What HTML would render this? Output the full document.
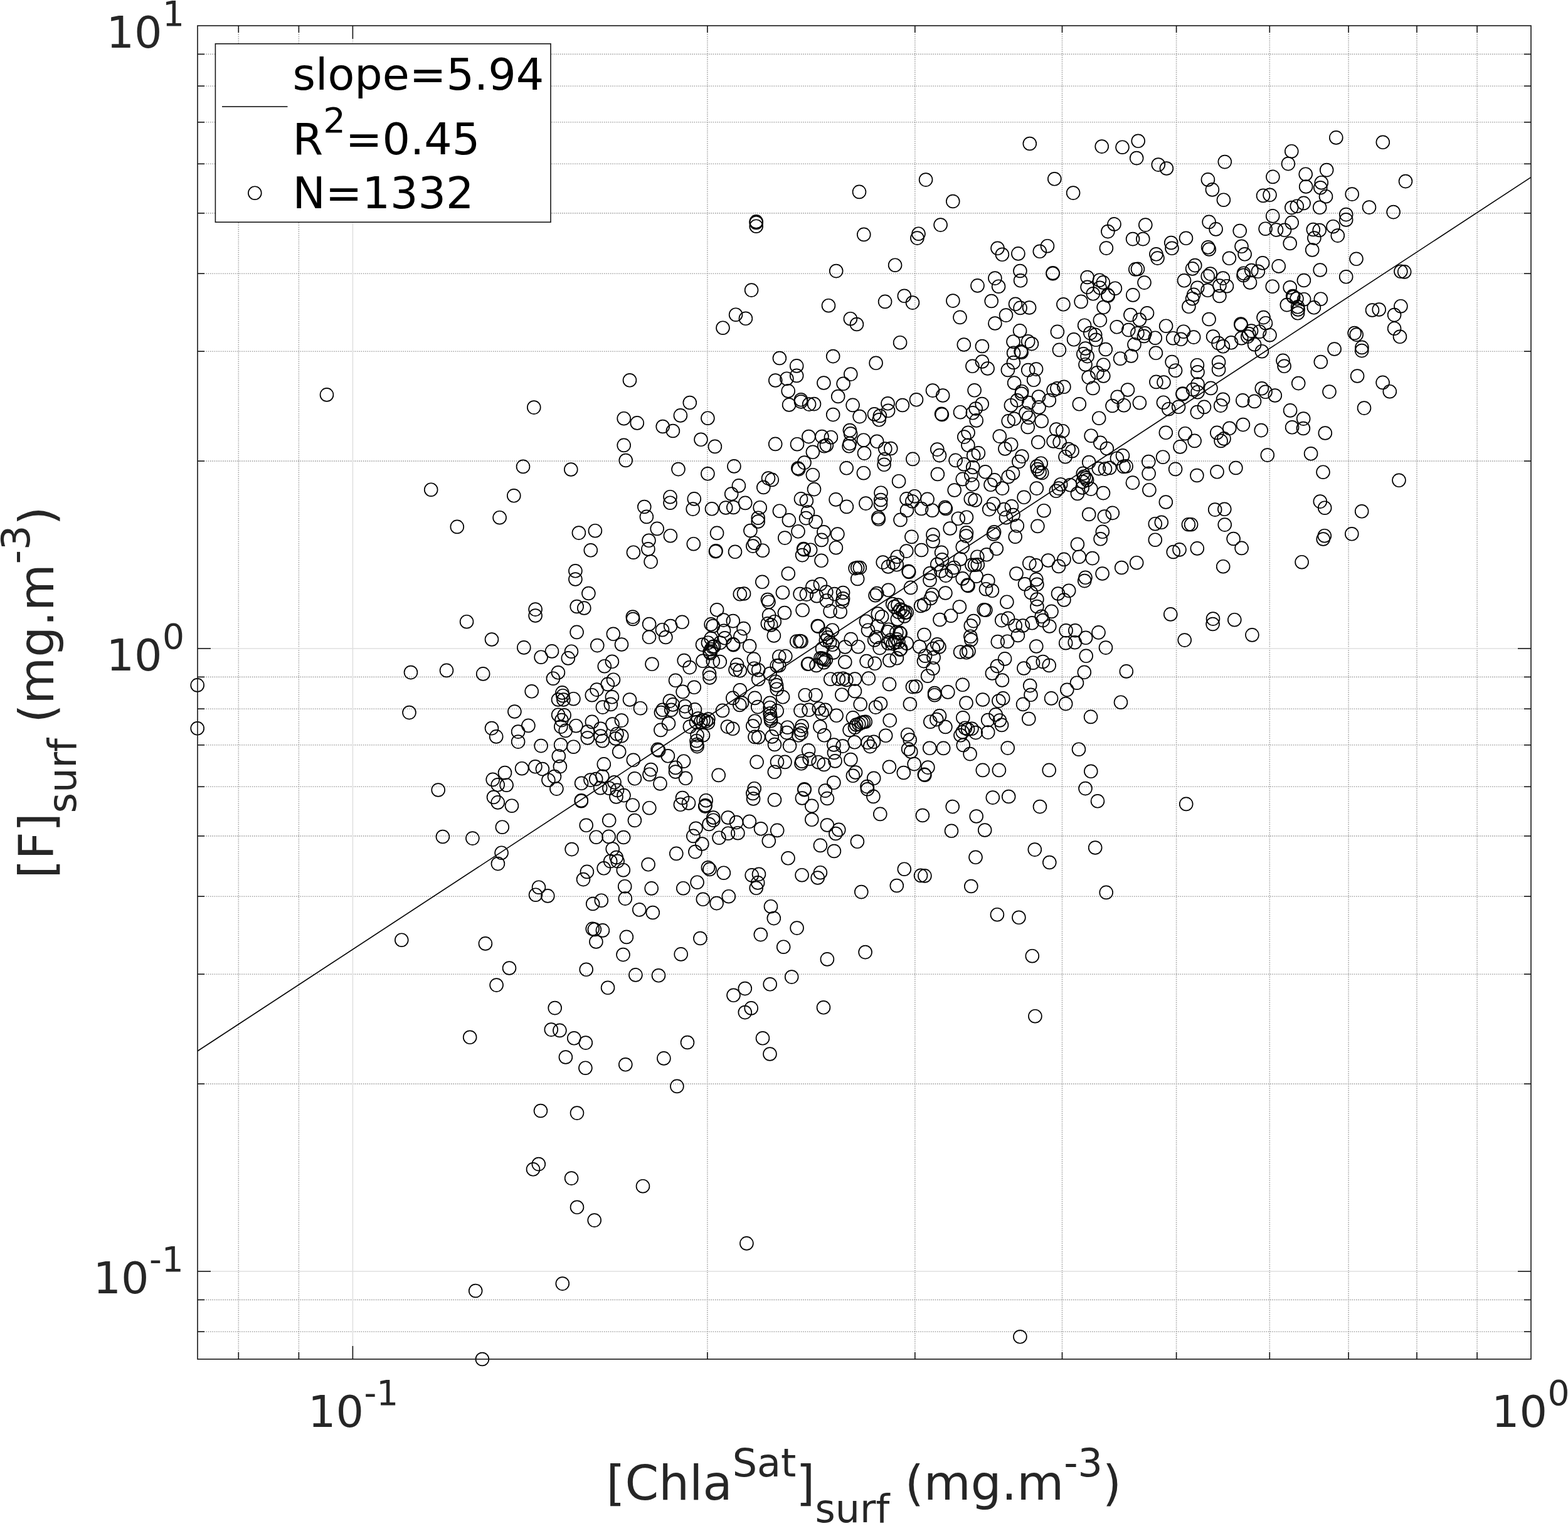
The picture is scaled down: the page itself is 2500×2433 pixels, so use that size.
<!DOCTYPE html>
<html lang="en"><head><meta charset="utf-8"><title>Scatter plot</title>
<style>
html,body{margin:0;padding:0;background:#fff}
body{width:2500px;height:2433px;overflow:hidden}
text{font-family:"DejaVu Sans","Liberation Sans",sans-serif}
.mg{stroke:#a2a2a2;stroke-width:1.6;stroke-dasharray:1.5 1.84}
.Mg{stroke:#dfdfdf;stroke-width:1.5}
.tk{stroke:#161616;stroke-width:1.6}
.tl{font-size:70px;fill:#262626}
.al{font-size:77px;fill:#262626}
.lg{font-size:70px;fill:#000}
</style></head>
<body>
<svg width="2500" height="2433" viewBox="0 0 2500 2433" style="display:block">
<rect x="0" y="0" width="2500" height="2433" fill="#fff"/>
<g><line x1="380.3" y1="41.0" x2="380.3" y2="2167.0" class="mg"/><line x1="476.4" y1="41.0" x2="476.4" y2="2167.0" class="mg"/><line x1="1127.9" y1="41.0" x2="1127.9" y2="2167.0" class="mg"/><line x1="1458.8" y1="41.0" x2="1458.8" y2="2167.0" class="mg"/><line x1="1693.5" y1="41.0" x2="1693.5" y2="2167.0" class="mg"/><line x1="1875.6" y1="41.0" x2="1875.6" y2="2167.0" class="mg"/><line x1="2024.3" y1="41.0" x2="2024.3" y2="2167.0" class="mg"/><line x1="2150.1" y1="41.0" x2="2150.1" y2="2167.0" class="mg"/><line x1="2259.0" y1="41.0" x2="2259.0" y2="2167.0" class="mg"/><line x1="2355.1" y1="41.0" x2="2355.1" y2="2167.0" class="mg"/><line x1="315.0" y1="2123.2" x2="2441.0" y2="2123.2" class="mg"/><line x1="315.0" y1="2072.4" x2="2441.0" y2="2072.4" class="mg"/><line x1="315.0" y1="1728.1" x2="2441.0" y2="1728.1" class="mg"/><line x1="315.0" y1="1553.2" x2="2441.0" y2="1553.2" class="mg"/><line x1="315.0" y1="1429.2" x2="2441.0" y2="1429.2" class="mg"/><line x1="315.0" y1="1332.9" x2="2441.0" y2="1332.9" class="mg"/><line x1="315.0" y1="1254.3" x2="2441.0" y2="1254.3" class="mg"/><line x1="315.0" y1="1187.8" x2="2441.0" y2="1187.8" class="mg"/><line x1="315.0" y1="1130.2" x2="2441.0" y2="1130.2" class="mg"/><line x1="315.0" y1="1079.4" x2="2441.0" y2="1079.4" class="mg"/><line x1="315.0" y1="735.1" x2="2441.0" y2="735.1" class="mg"/><line x1="315.0" y1="560.2" x2="2441.0" y2="560.2" class="mg"/><line x1="315.0" y1="436.2" x2="2441.0" y2="436.2" class="mg"/><line x1="315.0" y1="339.9" x2="2441.0" y2="339.9" class="mg"/><line x1="315.0" y1="261.3" x2="2441.0" y2="261.3" class="mg"/><line x1="315.0" y1="194.8" x2="2441.0" y2="194.8" class="mg"/><line x1="315.0" y1="137.2" x2="2441.0" y2="137.2" class="mg"/><line x1="315.0" y1="86.4" x2="2441.0" y2="86.4" class="mg"/><line x1="562.4" y1="41.0" x2="562.4" y2="2167.0" class="Mg"/><line x1="315.0" y1="2027.0" x2="2441.0" y2="2027.0" class="Mg"/><line x1="315.0" y1="1034.0" x2="2441.0" y2="1034.0" class="Mg"/></g>
<g><line x1="380.3" y1="2167.0" x2="380.3" y2="2156.0" class="tk"/><line x1="380.3" y1="41.0" x2="380.3" y2="52.0" class="tk"/><line x1="476.4" y1="2167.0" x2="476.4" y2="2156.0" class="tk"/><line x1="476.4" y1="41.0" x2="476.4" y2="52.0" class="tk"/><line x1="1127.9" y1="2167.0" x2="1127.9" y2="2156.0" class="tk"/><line x1="1127.9" y1="41.0" x2="1127.9" y2="52.0" class="tk"/><line x1="1458.8" y1="2167.0" x2="1458.8" y2="2156.0" class="tk"/><line x1="1458.8" y1="41.0" x2="1458.8" y2="52.0" class="tk"/><line x1="1693.5" y1="2167.0" x2="1693.5" y2="2156.0" class="tk"/><line x1="1693.5" y1="41.0" x2="1693.5" y2="52.0" class="tk"/><line x1="1875.6" y1="2167.0" x2="1875.6" y2="2156.0" class="tk"/><line x1="1875.6" y1="41.0" x2="1875.6" y2="52.0" class="tk"/><line x1="2024.3" y1="2167.0" x2="2024.3" y2="2156.0" class="tk"/><line x1="2024.3" y1="41.0" x2="2024.3" y2="52.0" class="tk"/><line x1="2150.1" y1="2167.0" x2="2150.1" y2="2156.0" class="tk"/><line x1="2150.1" y1="41.0" x2="2150.1" y2="52.0" class="tk"/><line x1="2259.0" y1="2167.0" x2="2259.0" y2="2156.0" class="tk"/><line x1="2259.0" y1="41.0" x2="2259.0" y2="52.0" class="tk"/><line x1="2355.1" y1="2167.0" x2="2355.1" y2="2156.0" class="tk"/><line x1="2355.1" y1="41.0" x2="2355.1" y2="52.0" class="tk"/><line x1="562.4" y1="2167.0" x2="562.4" y2="2146.0" class="tk"/><line x1="562.4" y1="41.0" x2="562.4" y2="62.0" class="tk"/><line x1="315.0" y1="2123.2" x2="326.0" y2="2123.2" class="tk"/><line x1="2441.0" y1="2123.2" x2="2430.0" y2="2123.2" class="tk"/><line x1="315.0" y1="2072.4" x2="326.0" y2="2072.4" class="tk"/><line x1="2441.0" y1="2072.4" x2="2430.0" y2="2072.4" class="tk"/><line x1="315.0" y1="1728.1" x2="326.0" y2="1728.1" class="tk"/><line x1="2441.0" y1="1728.1" x2="2430.0" y2="1728.1" class="tk"/><line x1="315.0" y1="1553.2" x2="326.0" y2="1553.2" class="tk"/><line x1="2441.0" y1="1553.2" x2="2430.0" y2="1553.2" class="tk"/><line x1="315.0" y1="1429.2" x2="326.0" y2="1429.2" class="tk"/><line x1="2441.0" y1="1429.2" x2="2430.0" y2="1429.2" class="tk"/><line x1="315.0" y1="1332.9" x2="326.0" y2="1332.9" class="tk"/><line x1="2441.0" y1="1332.9" x2="2430.0" y2="1332.9" class="tk"/><line x1="315.0" y1="1254.3" x2="326.0" y2="1254.3" class="tk"/><line x1="2441.0" y1="1254.3" x2="2430.0" y2="1254.3" class="tk"/><line x1="315.0" y1="1187.8" x2="326.0" y2="1187.8" class="tk"/><line x1="2441.0" y1="1187.8" x2="2430.0" y2="1187.8" class="tk"/><line x1="315.0" y1="1130.2" x2="326.0" y2="1130.2" class="tk"/><line x1="2441.0" y1="1130.2" x2="2430.0" y2="1130.2" class="tk"/><line x1="315.0" y1="1079.4" x2="326.0" y2="1079.4" class="tk"/><line x1="2441.0" y1="1079.4" x2="2430.0" y2="1079.4" class="tk"/><line x1="315.0" y1="735.1" x2="326.0" y2="735.1" class="tk"/><line x1="2441.0" y1="735.1" x2="2430.0" y2="735.1" class="tk"/><line x1="315.0" y1="560.2" x2="326.0" y2="560.2" class="tk"/><line x1="2441.0" y1="560.2" x2="2430.0" y2="560.2" class="tk"/><line x1="315.0" y1="436.2" x2="326.0" y2="436.2" class="tk"/><line x1="2441.0" y1="436.2" x2="2430.0" y2="436.2" class="tk"/><line x1="315.0" y1="339.9" x2="326.0" y2="339.9" class="tk"/><line x1="2441.0" y1="339.9" x2="2430.0" y2="339.9" class="tk"/><line x1="315.0" y1="261.3" x2="326.0" y2="261.3" class="tk"/><line x1="2441.0" y1="261.3" x2="2430.0" y2="261.3" class="tk"/><line x1="315.0" y1="194.8" x2="326.0" y2="194.8" class="tk"/><line x1="2441.0" y1="194.8" x2="2430.0" y2="194.8" class="tk"/><line x1="315.0" y1="137.2" x2="326.0" y2="137.2" class="tk"/><line x1="2441.0" y1="137.2" x2="2430.0" y2="137.2" class="tk"/><line x1="315.0" y1="86.4" x2="326.0" y2="86.4" class="tk"/><line x1="2441.0" y1="86.4" x2="2430.0" y2="86.4" class="tk"/><line x1="315.0" y1="2027.0" x2="336.0" y2="2027.0" class="tk"/><line x1="2441.0" y1="2027.0" x2="2420.0" y2="2027.0" class="tk"/><line x1="315.0" y1="1034.0" x2="336.0" y2="1034.0" class="tk"/><line x1="2441.0" y1="1034.0" x2="2420.0" y2="1034.0" class="tk"/></g>
<line x1="315.0" y1="1675.8" x2="2441.0" y2="282.6" stroke="#000" stroke-width="1.65"/>
<g fill="none" stroke="#000" stroke-width="1.7"><circle cx="521.0" cy="629.4" r="10.45"/><circle cx="687.2" cy="780.7" r="10.45"/><circle cx="314.7" cy="1092.4" r="10.45"/><circle cx="314.7" cy="1161.3" r="10.45"/><circle cx="655.0" cy="1072.1" r="10.45"/><circle cx="652.5" cy="1136.1" r="10.45"/><circle cx="698.7" cy="1259.5" r="10.45"/><circle cx="640.3" cy="1498.7" r="10.45"/><circle cx="1004.0" cy="606.3" r="10.45"/><circle cx="851.3" cy="649.6" r="10.45"/><circle cx="1099.8" cy="642.0" r="10.45"/><circle cx="994.7" cy="667.2" r="10.45"/><circle cx="1015.8" cy="674.4" r="10.45"/><circle cx="1084.9" cy="662.4" r="10.45"/><circle cx="1056.7" cy="680.0" r="10.45"/><circle cx="1072.9" cy="687.0" r="10.45"/><circle cx="994.7" cy="709.9" r="10.45"/><circle cx="997.7" cy="734.0" r="10.45"/><circle cx="834.0" cy="743.9" r="10.45"/><circle cx="910.3" cy="748.5" r="10.45"/><circle cx="1081.5" cy="748.1" r="10.45"/><circle cx="819.3" cy="790.3" r="10.45"/><circle cx="1068.5" cy="792.2" r="10.45"/><circle cx="1068.5" cy="801.7" r="10.45"/><circle cx="1027.3" cy="808.0" r="10.45"/><circle cx="1030.9" cy="823.9" r="10.45"/><circle cx="796.6" cy="825.2" r="10.45"/><circle cx="728.8" cy="839.9" r="10.45"/><circle cx="1047.7" cy="842.9" r="10.45"/><circle cx="922.9" cy="849.6" r="10.45"/><circle cx="948.9" cy="846.2" r="10.45"/><circle cx="1068.9" cy="854.2" r="10.45"/><circle cx="1034.5" cy="861.8" r="10.45"/><circle cx="1033.4" cy="875.4" r="10.45"/><circle cx="941.8" cy="877.3" r="10.45"/><circle cx="1009.9" cy="880.7" r="10.45"/><circle cx="1037.6" cy="895.6" r="10.45"/><circle cx="917.4" cy="910.3" r="10.45"/><circle cx="917.4" cy="923.5" r="10.45"/><circle cx="938.4" cy="946.0" r="10.45"/><circle cx="919.7" cy="967.0" r="10.45"/><circle cx="931.3" cy="969.5" r="10.45"/><circle cx="853.6" cy="971.6" r="10.45"/><circle cx="853.6" cy="981.5" r="10.45"/><circle cx="744.1" cy="991.2" r="10.45"/><circle cx="1008.8" cy="983.6" r="10.45"/><circle cx="1009.2" cy="987.0" r="10.45"/><circle cx="1035.1" cy="995.0" r="10.45"/><circle cx="1087.6" cy="991.8" r="10.45"/><circle cx="1069.1" cy="998.1" r="10.45"/><circle cx="784.0" cy="1019.5" r="10.45"/><circle cx="835.3" cy="1032.4" r="10.45"/><circle cx="880.0" cy="1038.4" r="10.45"/><circle cx="862.6" cy="1047.7" r="10.45"/><circle cx="712.0" cy="1068.9" r="10.45"/><circle cx="770.2" cy="1074.4" r="10.45"/><circle cx="881.9" cy="1081.7" r="10.45"/><circle cx="847.7" cy="1102.3" r="10.45"/><circle cx="820.4" cy="1134.5" r="10.45"/><circle cx="842.4" cy="1156.9" r="10.45"/><circle cx="784.0" cy="1161.1" r="10.45"/><circle cx="826.1" cy="1166.6" r="10.45"/><circle cx="791.2" cy="1174.4" r="10.45"/><circle cx="826.1" cy="1182.6" r="10.45"/><circle cx="862.6" cy="1189.1" r="10.45"/><circle cx="832.1" cy="1225.2" r="10.45"/><circle cx="853.4" cy="1222.3" r="10.45"/><circle cx="864.9" cy="1226.1" r="10.45"/><circle cx="805.0" cy="1232.1" r="10.45"/><circle cx="884.0" cy="1238.0" r="10.45"/><circle cx="874.4" cy="1243.7" r="10.45"/><circle cx="785.7" cy="1242.9" r="10.45"/><circle cx="793.7" cy="1251.3" r="10.45"/><circle cx="807.6" cy="1251.7" r="10.45"/><circle cx="887.4" cy="1257.6" r="10.45"/><circle cx="787.0" cy="1271.0" r="10.45"/><circle cx="793.7" cy="1279.4" r="10.45"/><circle cx="816.0" cy="1284.7" r="10.45"/><circle cx="800.8" cy="1318.7" r="10.45"/><circle cx="705.9" cy="1334.0" r="10.45"/><circle cx="753.4" cy="1336.6" r="10.45"/><circle cx="799.6" cy="1359.7" r="10.45"/><circle cx="793.9" cy="1377.1" r="10.45"/><circle cx="919.6" cy="1007.9" r="10.45"/><circle cx="977.8" cy="1010.8" r="10.45"/><circle cx="991.0" cy="1027.5" r="10.45"/><circle cx="952.3" cy="1029.1" r="10.45"/><circle cx="1035.0" cy="1015.8" r="10.45"/><circle cx="1061.4" cy="1016.0" r="10.45"/><circle cx="1056.0" cy="1004.2" r="10.45"/><circle cx="911.0" cy="1038.7" r="10.45"/><circle cx="905.8" cy="1049.4" r="10.45"/><circle cx="975.9" cy="1054.8" r="10.45"/><circle cx="963.8" cy="1062.2" r="10.45"/><circle cx="1039.5" cy="1058.8" r="10.45"/><circle cx="1090.7" cy="1053.0" r="10.45"/><circle cx="1099.6" cy="1064.1" r="10.45"/><circle cx="978.0" cy="1083.7" r="10.45"/><circle cx="968.8" cy="1090.9" r="10.45"/><circle cx="1077.0" cy="1084.8" r="10.45"/><circle cx="951.5" cy="1099.6" r="10.45"/><circle cx="943.8" cy="1108.2" r="10.45"/><circle cx="1088.6" cy="1102.9" r="10.45"/><circle cx="975.9" cy="1111.3" r="10.45"/><circle cx="914.4" cy="1114.2" r="10.45"/><circle cx="1004.0" cy="1115.5" r="10.45"/><circle cx="973.8" cy="1122.9" r="10.45"/><circle cx="960.9" cy="1127.6" r="10.45"/><circle cx="1021.0" cy="1129.2" r="10.45"/><circle cx="1067.9" cy="1117.6" r="10.45"/><circle cx="1072.8" cy="1123.4" r="10.45"/><circle cx="1092.0" cy="1126.1" r="10.45"/><circle cx="1056.5" cy="1131.8" r="10.45"/><circle cx="1053.9" cy="1136.0" r="10.45"/><circle cx="1070.2" cy="1131.8" r="10.45"/><circle cx="1093.8" cy="1135.0" r="10.45"/><circle cx="990.9" cy="1148.6" r="10.45"/><circle cx="943.9" cy="1150.9" r="10.45"/><circle cx="976.5" cy="1154.6" r="10.45"/><circle cx="1066.0" cy="1153.6" r="10.45"/><circle cx="918.4" cy="1157.2" r="10.45"/><circle cx="957.6" cy="1161.8" r="10.45"/><circle cx="936.8" cy="1166.5" r="10.45"/><circle cx="1053.4" cy="1163.9" r="10.45"/><circle cx="1099.9" cy="1158.6" r="10.45"/><circle cx="957.6" cy="1173.5" r="10.45"/><circle cx="936.8" cy="1176.5" r="10.45"/><circle cx="983.5" cy="1170.2" r="10.45"/><circle cx="991.2" cy="1173.3" r="10.45"/><circle cx="981.4" cy="1177.5" r="10.45"/><circle cx="960.7" cy="1181.2" r="10.45"/><circle cx="914.4" cy="1190.7" r="10.45"/><circle cx="987.2" cy="1198.5" r="10.45"/><circle cx="1048.6" cy="1194.9" r="10.45"/><circle cx="1050.2" cy="1196.4" r="10.45"/><circle cx="896.4" cy="1104.4" r="10.45"/><circle cx="897.4" cy="1109.2" r="10.45"/><circle cx="890.0" cy="1115.5" r="10.45"/><circle cx="898.4" cy="1115.5" r="10.45"/><circle cx="890.1" cy="1139.7" r="10.45"/><circle cx="899.6" cy="1140.3" r="10.45"/><circle cx="895.4" cy="1148.1" r="10.45"/><circle cx="894.3" cy="1158.6" r="10.45"/><circle cx="901.7" cy="1164.9" r="10.45"/><circle cx="894.1" cy="1187.6" r="10.45"/><circle cx="889.9" cy="1072.3" r="10.45"/><circle cx="1064.9" cy="1205.3" r="10.45"/><circle cx="1009.8" cy="1211.8" r="10.45"/><circle cx="962.8" cy="1218.4" r="10.45"/><circle cx="1090.1" cy="1213.7" r="10.45"/><circle cx="1037.8" cy="1227.1" r="10.45"/><circle cx="1035.5" cy="1234.7" r="10.45"/><circle cx="1077.0" cy="1223.9" r="10.45"/><circle cx="1077.0" cy="1230.5" r="10.45"/><circle cx="1093.1" cy="1240.8" r="10.45"/><circle cx="890.8" cy="1205.5" r="10.45"/><circle cx="892.9" cy="1222.1" r="10.45"/><circle cx="960.4" cy="1237.8" r="10.45"/><circle cx="950.2" cy="1242.0" r="10.45"/><circle cx="941.5" cy="1243.6" r="10.45"/><circle cx="927.1" cy="1248.8" r="10.45"/><circle cx="1011.9" cy="1241.3" r="10.45"/><circle cx="1052.5" cy="1249.4" r="10.45"/><circle cx="979.5" cy="1247.3" r="10.45"/><circle cx="957.2" cy="1256.2" r="10.45"/><circle cx="971.4" cy="1256.7" r="10.45"/><circle cx="984.0" cy="1259.9" r="10.45"/><circle cx="994.5" cy="1268.1" r="10.45"/><circle cx="982.5" cy="1270.4" r="10.45"/><circle cx="926.8" cy="1276.2" r="10.45"/><circle cx="926.8" cy="1277.2" r="10.45"/><circle cx="1008.7" cy="1283.7" r="10.45"/><circle cx="1035.3" cy="1288.2" r="10.45"/><circle cx="1088.0" cy="1272.0" r="10.45"/><circle cx="1084.9" cy="1282.8" r="10.45"/><circle cx="1098.0" cy="1280.4" r="10.45"/><circle cx="971.2" cy="1308.0" r="10.45"/><circle cx="1011.9" cy="1308.0" r="10.45"/><circle cx="934.7" cy="1315.8" r="10.45"/><circle cx="950.6" cy="1334.7" r="10.45"/><circle cx="970.6" cy="1333.9" r="10.45"/><circle cx="994.2" cy="1335.0" r="10.45"/><circle cx="911.6" cy="1354.1" r="10.45"/><circle cx="976.7" cy="1353.6" r="10.45"/><circle cx="1078.3" cy="1360.9" r="10.45"/><circle cx="982.7" cy="1367.0" r="10.45"/><circle cx="984.6" cy="1373.1" r="10.45"/><circle cx="973.2" cy="1373.1" r="10.45"/><circle cx="1033.6" cy="1378.3" r="10.45"/><circle cx="962.7" cy="1384.3" r="10.45"/><circle cx="993.8" cy="1387.2" r="10.45"/><circle cx="935.9" cy="1389.9" r="10.45"/><circle cx="930.0" cy="1402.1" r="10.45"/><circle cx="859.0" cy="1414.7" r="10.45"/><circle cx="854.0" cy="1426.7" r="10.45"/><circle cx="873.3" cy="1428.4" r="10.45"/><circle cx="996.2" cy="1413.2" r="10.45"/><circle cx="1038.7" cy="1416.4" r="10.45"/><circle cx="1089.3" cy="1416.2" r="10.45"/><circle cx="996.8" cy="1432.6" r="10.45"/><circle cx="958.8" cy="1435.7" r="10.45"/><circle cx="945.2" cy="1441.0" r="10.45"/><circle cx="1019.3" cy="1450.4" r="10.45"/><circle cx="1040.8" cy="1455.0" r="10.45"/><circle cx="944.7" cy="1480.9" r="10.45"/><circle cx="947.9" cy="1481.9" r="10.45"/><circle cx="960.9" cy="1483.4" r="10.45"/><circle cx="998.9" cy="1493.9" r="10.45"/><circle cx="950.4" cy="1501.5" r="10.45"/><circle cx="773.9" cy="1504.4" r="10.45"/><circle cx="993.5" cy="1522.1" r="10.45"/><circle cx="1085.7" cy="1521.4" r="10.45"/><circle cx="812.0" cy="1543.5" r="10.45"/><circle cx="934.7" cy="1545.8" r="10.45"/><circle cx="1013.4" cy="1554.4" r="10.45"/><circle cx="1050.0" cy="1555.3" r="10.45"/><circle cx="791.6" cy="1570.6" r="10.45"/><circle cx="969.1" cy="1574.8" r="10.45"/><circle cx="884.7" cy="1607.1" r="10.45"/><circle cx="878.8" cy="1641.6" r="10.45"/><circle cx="892.4" cy="1642.9" r="10.45"/><circle cx="915.3" cy="1655.3" r="10.45"/><circle cx="933.8" cy="1662.6" r="10.45"/><circle cx="749.2" cy="1653.8" r="10.45"/><circle cx="1096.0" cy="1662.0" r="10.45"/><circle cx="901.9" cy="1685.5" r="10.45"/><circle cx="1058.4" cy="1687.4" r="10.45"/><circle cx="997.3" cy="1697.3" r="10.45"/><circle cx="933.4" cy="1702.7" r="10.45"/><circle cx="1079.4" cy="1731.9" r="10.45"/><circle cx="862.0" cy="1771.0" r="10.45"/><circle cx="920.0" cy="1774.6" r="10.45"/><circle cx="858.8" cy="1856.1" r="10.45"/><circle cx="850.0" cy="1864.3" r="10.45"/><circle cx="911.1" cy="1878.6" r="10.45"/><circle cx="1025.0" cy="1891.2" r="10.45"/><circle cx="920.0" cy="1924.8" r="10.45"/><circle cx="947.7" cy="1945.6" r="10.45"/><circle cx="896.8" cy="2046.6" r="10.45"/><circle cx="758.2" cy="2058.0" r="10.45"/><circle cx="768.9" cy="2167.0" r="10.45"/><circle cx="1476.1" cy="286.6" r="10.45"/><circle cx="1370.0" cy="305.9" r="10.45"/><circle cx="1205.7" cy="353.4" r="10.45"/><circle cx="1205.7" cy="355.0" r="10.45"/><circle cx="1205.7" cy="360.7" r="10.45"/><circle cx="1499.6" cy="358.6" r="10.45"/><circle cx="1377.3" cy="373.9" r="10.45"/><circle cx="1464.5" cy="372.7" r="10.45"/><circle cx="1462.4" cy="379.6" r="10.45"/><circle cx="1427.1" cy="422.7" r="10.45"/><circle cx="1333.2" cy="432.1" r="10.45"/><circle cx="1198.1" cy="462.6" r="10.45"/><circle cx="1441.8" cy="471.8" r="10.45"/><circle cx="1455.0" cy="482.6" r="10.45"/><circle cx="1411.1" cy="480.9" r="10.45"/><circle cx="1321.0" cy="487.2" r="10.45"/><circle cx="1173.1" cy="501.7" r="10.45"/><circle cx="1188.9" cy="507.8" r="10.45"/><circle cx="1355.9" cy="508.2" r="10.45"/><circle cx="1366.0" cy="517.0" r="10.45"/><circle cx="1152.5" cy="522.7" r="10.45"/><circle cx="1435.1" cy="546.2" r="10.45"/><circle cx="1242.9" cy="571.0" r="10.45"/><circle cx="1328.2" cy="568.1" r="10.45"/><circle cx="1396.6" cy="578.8" r="10.45"/><circle cx="1270.2" cy="583.4" r="10.45"/><circle cx="1356.3" cy="596.6" r="10.45"/><circle cx="1270.2" cy="598.9" r="10.45"/><circle cx="1236.3" cy="606.5" r="10.45"/><circle cx="1254.4" cy="603.7" r="10.45"/><circle cx="1256.7" cy="623.4" r="10.45"/><circle cx="1277.0" cy="637.3" r="10.45"/><circle cx="1277.0" cy="640.4" r="10.45"/><circle cx="1258.1" cy="645.4" r="10.45"/><circle cx="1290.1" cy="644.6" r="10.45"/><circle cx="1298.0" cy="644.1" r="10.45"/><circle cx="1128.4" cy="666.7" r="10.45"/><circle cx="1117.5" cy="700.8" r="10.45"/><circle cx="1139.9" cy="711.9" r="10.45"/><circle cx="1236.2" cy="707.9" r="10.45"/><circle cx="1271.0" cy="708.2" r="10.45"/><circle cx="1289.4" cy="696.1" r="10.45"/><circle cx="1295.9" cy="720.8" r="10.45"/><circle cx="1170.4" cy="743.4" r="10.45"/><circle cx="1282.5" cy="737.6" r="10.45"/><circle cx="1272.3" cy="746.5" r="10.45"/><circle cx="1273.3" cy="748.1" r="10.45"/><circle cx="1128.4" cy="755.3" r="10.45"/><circle cx="1295.9" cy="757.2" r="10.45"/><circle cx="1225.0" cy="762.6" r="10.45"/><circle cx="1230.8" cy="764.9" r="10.45"/><circle cx="1177.9" cy="774.4" r="10.45"/><circle cx="1217.3" cy="777.0" r="10.45"/><circle cx="1166.2" cy="787.5" r="10.45"/><circle cx="1298.0" cy="780.1" r="10.45"/><circle cx="1106.8" cy="795.4" r="10.45"/><circle cx="1277.0" cy="795.4" r="10.45"/><circle cx="1285.9" cy="798.5" r="10.45"/><circle cx="1313.4" cy="610.5" r="10.45"/><circle cx="1344.6" cy="611.8" r="10.45"/><circle cx="1336.2" cy="632.0" r="10.45"/><circle cx="1487.0" cy="622.6" r="10.45"/><circle cx="1461.0" cy="637.3" r="10.45"/><circle cx="1415.5" cy="643.3" r="10.45"/><circle cx="1438.9" cy="646.0" r="10.45"/><circle cx="1359.6" cy="645.9" r="10.45"/><circle cx="1416.1" cy="654.8" r="10.45"/><circle cx="1328.2" cy="661.1" r="10.45"/><circle cx="1394.0" cy="660.4" r="10.45"/><circle cx="1370.6" cy="664.1" r="10.45"/><circle cx="1402.9" cy="663.0" r="10.45"/><circle cx="1401.6" cy="669.3" r="10.45"/><circle cx="1354.9" cy="686.1" r="10.45"/><circle cx="1356.2" cy="691.4" r="10.45"/><circle cx="1310.5" cy="696.1" r="10.45"/><circle cx="1324.9" cy="697.2" r="10.45"/><circle cx="1376.9" cy="701.7" r="10.45"/><circle cx="1398.2" cy="703.8" r="10.45"/><circle cx="1354.8" cy="707.1" r="10.45"/><circle cx="1353.6" cy="711.3" r="10.45"/><circle cx="1314.2" cy="711.3" r="10.45"/><circle cx="1317.9" cy="709.8" r="10.45"/><circle cx="1411.3" cy="715.5" r="10.45"/><circle cx="1420.3" cy="715.0" r="10.45"/><circle cx="1378.0" cy="722.6" r="10.45"/><circle cx="1410.3" cy="732.4" r="10.45"/><circle cx="1409.6" cy="740.8" r="10.45"/><circle cx="1455.3" cy="731.9" r="10.45"/><circle cx="1494.3" cy="716.6" r="10.45"/><circle cx="1498.0" cy="726.1" r="10.45"/><circle cx="1349.7" cy="746.3" r="10.45"/><circle cx="1376.9" cy="754.2" r="10.45"/><circle cx="1494.9" cy="756.0" r="10.45"/><circle cx="1433.1" cy="767.2" r="10.45"/><circle cx="1404.5" cy="785.7" r="10.45"/><circle cx="1332.6" cy="796.4" r="10.45"/><circle cx="1404.3" cy="797.0" r="10.45"/><circle cx="1445.5" cy="795.4" r="10.45"/><circle cx="1458.1" cy="791.2" r="10.45"/><circle cx="1478.6" cy="795.9" r="10.45"/><circle cx="1454.4" cy="799.3" r="10.45"/><circle cx="1104.7" cy="811.6" r="10.45"/><circle cx="1135.0" cy="811.3" r="10.45"/><circle cx="1157.2" cy="809.5" r="10.45"/><circle cx="1169.3" cy="808.9" r="10.45"/><circle cx="1188.2" cy="801.9" r="10.45"/><circle cx="1211.7" cy="809.2" r="10.45"/><circle cx="1242.9" cy="814.7" r="10.45"/><circle cx="1208.7" cy="825.7" r="10.45"/><circle cx="1208.7" cy="831.5" r="10.45"/><circle cx="1257.9" cy="829.4" r="10.45"/><circle cx="1288.0" cy="816.6" r="10.45"/><circle cx="1285.1" cy="826.1" r="10.45"/><circle cx="1143.1" cy="849.9" r="10.45"/><circle cx="1196.4" cy="846.0" r="10.45"/><circle cx="1272.5" cy="847.3" r="10.45"/><circle cx="1251.3" cy="857.6" r="10.45"/><circle cx="1105.8" cy="867.2" r="10.45"/><circle cx="1202.9" cy="865.7" r="10.45"/><circle cx="1200.3" cy="870.6" r="10.45"/><circle cx="1141.5" cy="878.3" r="10.45"/><circle cx="1141.0" cy="879.3" r="10.45"/><circle cx="1172.0" cy="879.8" r="10.45"/><circle cx="1215.9" cy="877.7" r="10.45"/><circle cx="1281.2" cy="875.1" r="10.45"/><circle cx="1281.7" cy="876.2" r="10.45"/><circle cx="1292.2" cy="876.7" r="10.45"/><circle cx="1279.1" cy="885.1" r="10.45"/><circle cx="1256.8" cy="914.5" r="10.45"/><circle cx="1215.3" cy="927.8" r="10.45"/><circle cx="1247.9" cy="944.7" r="10.45"/><circle cx="1179.8" cy="947.3" r="10.45"/><circle cx="1186.1" cy="946.5" r="10.45"/><circle cx="1295.4" cy="935.5" r="10.45"/><circle cx="1275.6" cy="947.1" r="10.45"/><circle cx="1285.9" cy="947.6" r="10.45"/><circle cx="1223.9" cy="956.0" r="10.45"/><circle cx="1225.5" cy="959.7" r="10.45"/><circle cx="1143.1" cy="972.3" r="10.45"/><circle cx="1279.6" cy="972.8" r="10.45"/><circle cx="1250.9" cy="977.0" r="10.45"/><circle cx="1226.1" cy="980.9" r="10.45"/><circle cx="1153.6" cy="988.6" r="10.45"/><circle cx="1168.8" cy="990.1" r="10.45"/><circle cx="1234.8" cy="991.2" r="10.45"/><circle cx="1223.9" cy="994.3" r="10.45"/><circle cx="1133.6" cy="995.4" r="10.45"/><circle cx="1136.8" cy="998.0" r="10.45"/><circle cx="1229.2" cy="996.4" r="10.45"/><circle cx="1349.9" cy="807.9" r="10.45"/><circle cx="1380.4" cy="802.6" r="10.45"/><circle cx="1404.0" cy="803.7" r="10.45"/><circle cx="1446.0" cy="813.7" r="10.45"/><circle cx="1469.1" cy="811.0" r="10.45"/><circle cx="1486.4" cy="813.7" r="10.45"/><circle cx="1300.5" cy="832.0" r="10.45"/><circle cx="1400.3" cy="825.2" r="10.45"/><circle cx="1400.8" cy="827.8" r="10.45"/><circle cx="1435.5" cy="828.9" r="10.45"/><circle cx="1313.4" cy="848.3" r="10.45"/><circle cx="1335.4" cy="851.5" r="10.45"/><circle cx="1309.8" cy="860.9" r="10.45"/><circle cx="1332.9" cy="873.2" r="10.45"/><circle cx="1453.4" cy="855.9" r="10.45"/><circle cx="1487.5" cy="852.5" r="10.45"/><circle cx="1487.5" cy="863.0" r="10.45"/><circle cx="1445.3" cy="878.6" r="10.45"/><circle cx="1469.1" cy="877.0" r="10.45"/><circle cx="1309.5" cy="893.8" r="10.45"/><circle cx="1430.6" cy="887.7" r="10.45"/><circle cx="1407.7" cy="896.6" r="10.45"/><circle cx="1424.5" cy="897.2" r="10.45"/><circle cx="1416.1" cy="903.5" r="10.45"/><circle cx="1429.7" cy="900.3" r="10.45"/><circle cx="1363.6" cy="906.1" r="10.45"/><circle cx="1367.2" cy="905.0" r="10.45"/><circle cx="1370.9" cy="905.0" r="10.45"/><circle cx="1448.6" cy="910.8" r="10.45"/><circle cx="1449.2" cy="911.9" r="10.45"/><circle cx="1494.3" cy="899.8" r="10.45"/><circle cx="1482.8" cy="914.0" r="10.45"/><circle cx="1367.2" cy="922.9" r="10.45"/><circle cx="1482.5" cy="925.0" r="10.45"/><circle cx="1307.9" cy="931.3" r="10.45"/><circle cx="1452.0" cy="936.9" r="10.45"/><circle cx="1416.4" cy="940.8" r="10.45"/><circle cx="1317.3" cy="943.9" r="10.45"/><circle cx="1330.5" cy="947.1" r="10.45"/><circle cx="1344.1" cy="945.0" r="10.45"/><circle cx="1398.2" cy="946.0" r="10.45"/><circle cx="1395.6" cy="949.2" r="10.45"/><circle cx="1344.1" cy="954.4" r="10.45"/><circle cx="1486.4" cy="948.1" r="10.45"/><circle cx="1483.8" cy="953.9" r="10.45"/><circle cx="1343.1" cy="959.1" r="10.45"/><circle cx="1317.9" cy="957.6" r="10.45"/><circle cx="1302.2" cy="950.2" r="10.45"/><circle cx="1468.1" cy="966.0" r="10.45"/><circle cx="1473.3" cy="963.9" r="10.45"/><circle cx="1323.6" cy="974.4" r="10.45"/><circle cx="1339.7" cy="975.4" r="10.45"/><circle cx="1399.8" cy="978.6" r="10.45"/><circle cx="1406.1" cy="983.3" r="10.45"/><circle cx="1380.9" cy="990.7" r="10.45"/><circle cx="1498.5" cy="988.0" r="10.45"/><circle cx="1303.7" cy="998.0" r="10.45"/><circle cx="1304.4" cy="998.8" r="10.45"/><circle cx="1398.7" cy="998.5" r="10.45"/><circle cx="1423.1" cy="963.1" r="10.45"/><circle cx="1426.2" cy="967.3" r="10.45"/><circle cx="1431.5" cy="964.6" r="10.45"/><circle cx="1435.7" cy="971.5" r="10.45"/><circle cx="1432.5" cy="975.7" r="10.45"/><circle cx="1439.3" cy="973.6" r="10.45"/><circle cx="1443.0" cy="976.7" r="10.45"/><circle cx="1445.7" cy="976.2" r="10.45"/><circle cx="1442.0" cy="982.5" r="10.45"/><circle cx="1430.9" cy="987.2" r="10.45"/><circle cx="1185.6" cy="1002.1" r="10.45"/><circle cx="1154.1" cy="1005.8" r="10.45"/><circle cx="1133.6" cy="1017.9" r="10.45"/><circle cx="1128.9" cy="1024.7" r="10.45"/><circle cx="1120.0" cy="1027.8" r="10.45"/><circle cx="1148.3" cy="1024.7" r="10.45"/><circle cx="1155.7" cy="1017.3" r="10.45"/><circle cx="1138.3" cy="1030.5" r="10.45"/><circle cx="1133.6" cy="1035.2" r="10.45"/><circle cx="1131.5" cy="1039.4" r="10.45"/><circle cx="1132.6" cy="1041.5" r="10.45"/><circle cx="1136.2" cy="1031.5" r="10.45"/><circle cx="1168.8" cy="1027.1" r="10.45"/><circle cx="1169.3" cy="1028.2" r="10.45"/><circle cx="1180.4" cy="1014.7" r="10.45"/><circle cx="1195.1" cy="1030.1" r="10.45"/><circle cx="1233.9" cy="1013.4" r="10.45"/><circle cx="1270.2" cy="1022.6" r="10.45"/><circle cx="1275.4" cy="1022.1" r="10.45"/><circle cx="1277.5" cy="1022.6" r="10.45"/><circle cx="1120.5" cy="1053.8" r="10.45"/><circle cx="1136.8" cy="1054.1" r="10.45"/><circle cx="1147.8" cy="1055.1" r="10.45"/><circle cx="1201.9" cy="1050.9" r="10.45"/><circle cx="1242.3" cy="1046.7" r="10.45"/><circle cx="1252.3" cy="1046.2" r="10.45"/><circle cx="1175.1" cy="1059.9" r="10.45"/><circle cx="1172.5" cy="1067.8" r="10.45"/><circle cx="1179.8" cy="1069.3" r="10.45"/><circle cx="1202.4" cy="1065.7" r="10.45"/><circle cx="1209.2" cy="1068.3" r="10.45"/><circle cx="1238.7" cy="1061.4" r="10.45"/><circle cx="1242.3" cy="1060.9" r="10.45"/><circle cx="1288.0" cy="1058.8" r="10.45"/><circle cx="1289.1" cy="1058.3" r="10.45"/><circle cx="1227.6" cy="1074.1" r="10.45"/><circle cx="1131.0" cy="1074.1" r="10.45"/><circle cx="1131.5" cy="1080.4" r="10.45"/><circle cx="1209.2" cy="1083.0" r="10.45"/><circle cx="1236.6" cy="1086.7" r="10.45"/><circle cx="1238.1" cy="1092.4" r="10.45"/><circle cx="1238.7" cy="1098.7" r="10.45"/><circle cx="1106.8" cy="1095.8" r="10.45"/><circle cx="1179.8" cy="1100.3" r="10.45"/><circle cx="1168.3" cy="1112.9" r="10.45"/><circle cx="1203.5" cy="1112.9" r="10.45"/><circle cx="1248.1" cy="1111.3" r="10.45"/><circle cx="1283.8" cy="1108.2" r="10.45"/><circle cx="1183.0" cy="1120.8" r="10.45"/><circle cx="1179.3" cy="1123.9" r="10.45"/><circle cx="1227.6" cy="1120.8" r="10.45"/><circle cx="1208.2" cy="1127.1" r="10.45"/><circle cx="1227.6" cy="1128.2" r="10.45"/><circle cx="1238.7" cy="1133.4" r="10.45"/><circle cx="1152.0" cy="1132.9" r="10.45"/><circle cx="1107.9" cy="1131.3" r="10.45"/><circle cx="1276.5" cy="1132.9" r="10.45"/><circle cx="1289.6" cy="1131.8" r="10.45"/><circle cx="1113.1" cy="1145.5" r="10.45"/><circle cx="1117.3" cy="1150.7" r="10.45"/><circle cx="1121.5" cy="1148.6" r="10.45"/><circle cx="1125.7" cy="1149.7" r="10.45"/><circle cx="1129.4" cy="1146.5" r="10.45"/><circle cx="1128.9" cy="1152.3" r="10.45"/><circle cx="1110.0" cy="1151.3" r="10.45"/><circle cx="1203.5" cy="1149.7" r="10.45"/><circle cx="1200.3" cy="1157.6" r="10.45"/><circle cx="1159.9" cy="1158.6" r="10.45"/><circle cx="1168.3" cy="1161.8" r="10.45"/><circle cx="1227.6" cy="1137.6" r="10.45"/><circle cx="1228.2" cy="1141.8" r="10.45"/><circle cx="1228.7" cy="1146.0" r="10.45"/><circle cx="1229.2" cy="1149.2" r="10.45"/><circle cx="1255.5" cy="1159.7" r="10.45"/><circle cx="1254.4" cy="1168.1" r="10.45"/><circle cx="1237.6" cy="1162.3" r="10.45"/><circle cx="1278.6" cy="1157.6" r="10.45"/><circle cx="1276.5" cy="1163.9" r="10.45"/><circle cx="1277.5" cy="1169.1" r="10.45"/><circle cx="1273.3" cy="1172.3" r="10.45"/><circle cx="1121.0" cy="1172.3" r="10.45"/><circle cx="1111.6" cy="1172.3" r="10.45"/><circle cx="1203.5" cy="1174.9" r="10.45"/><circle cx="1209.2" cy="1175.4" r="10.45"/><circle cx="1230.8" cy="1174.4" r="10.45"/><circle cx="1110.5" cy="1181.2" r="10.45"/><circle cx="1111.0" cy="1187.0" r="10.45"/><circle cx="1111.6" cy="1190.1" r="10.45"/><circle cx="1235.0" cy="1187.0" r="10.45"/><circle cx="1259.1" cy="1189.1" r="10.45"/><circle cx="1289.1" cy="1196.4" r="10.45"/><circle cx="1327.0" cy="1004.7" r="10.45"/><circle cx="1316.8" cy="1011.0" r="10.45"/><circle cx="1316.8" cy="1021.0" r="10.45"/><circle cx="1323.1" cy="1024.1" r="10.45"/><circle cx="1327.3" cy="1027.8" r="10.45"/><circle cx="1319.9" cy="1016.3" r="10.45"/><circle cx="1311.0" cy="1034.1" r="10.45"/><circle cx="1328.8" cy="1040.4" r="10.45"/><circle cx="1308.4" cy="1049.3" r="10.45"/><circle cx="1311.0" cy="1049.9" r="10.45"/><circle cx="1313.6" cy="1050.9" r="10.45"/><circle cx="1316.8" cy="1052.0" r="10.45"/><circle cx="1313.6" cy="1056.2" r="10.45"/><circle cx="1301.5" cy="1060.9" r="10.45"/><circle cx="1394.2" cy="1020.5" r="10.45"/><circle cx="1397.1" cy="1015.7" r="10.45"/><circle cx="1402.6" cy="1033.1" r="10.45"/><circle cx="1415.2" cy="1007.3" r="10.45"/><circle cx="1416.8" cy="1003.7" r="10.45"/><circle cx="1435.7" cy="1010.0" r="10.45"/><circle cx="1434.6" cy="1008.9" r="10.45"/><circle cx="1429.4" cy="1008.4" r="10.45"/><circle cx="1416.2" cy="1025.7" r="10.45"/><circle cx="1423.6" cy="1026.2" r="10.45"/><circle cx="1427.3" cy="1024.1" r="10.45"/><circle cx="1419.9" cy="1020.5" r="10.45"/><circle cx="1432.5" cy="1023.6" r="10.45"/><circle cx="1445.7" cy="1025.7" r="10.45"/><circle cx="1436.2" cy="1034.6" r="10.45"/><circle cx="1435.1" cy="1035.7" r="10.45"/><circle cx="1429.9" cy="1019.4" r="10.45"/><circle cx="1418.3" cy="1053.0" r="10.45"/><circle cx="1429.9" cy="1049.3" r="10.45"/><circle cx="1381.6" cy="1054.1" r="10.45"/><circle cx="1394.7" cy="1057.8" r="10.45"/><circle cx="1466.1" cy="1031.0" r="10.45"/><circle cx="1473.5" cy="1012.1" r="10.45"/><circle cx="1475.1" cy="1045.7" r="10.45"/><circle cx="1473.0" cy="1054.1" r="10.45"/><circle cx="1356.7" cy="1019.1" r="10.45"/><circle cx="1347.3" cy="1031.5" r="10.45"/><circle cx="1368.3" cy="1031.2" r="10.45"/><circle cx="1347.3" cy="1055.5" r="10.45"/><circle cx="1384.0" cy="1004.7" r="10.45"/><circle cx="1488.0" cy="1034.1" r="10.45"/><circle cx="1494.3" cy="1027.3" r="10.45"/><circle cx="1497.5" cy="1031.5" r="10.45"/><circle cx="1488.6" cy="1048.3" r="10.45"/><circle cx="1487.5" cy="1065.7" r="10.45"/><circle cx="1479.1" cy="1077.7" r="10.45"/><circle cx="1324.2" cy="1082.7" r="10.45"/><circle cx="1336.8" cy="1082.5" r="10.45"/><circle cx="1344.1" cy="1081.9" r="10.45"/><circle cx="1349.4" cy="1084.0" r="10.45"/><circle cx="1363.0" cy="1082.5" r="10.45"/><circle cx="1384.8" cy="1081.6" r="10.45"/><circle cx="1418.0" cy="1090.9" r="10.45"/><circle cx="1454.9" cy="1095.1" r="10.45"/><circle cx="1460.2" cy="1094.5" r="10.45"/><circle cx="1490.1" cy="1105.0" r="10.45"/><circle cx="1490.1" cy="1108.2" r="10.45"/><circle cx="1300.5" cy="1108.2" r="10.45"/><circle cx="1342.3" cy="1107.7" r="10.45"/><circle cx="1363.0" cy="1101.9" r="10.45"/><circle cx="1371.7" cy="1122.9" r="10.45"/><circle cx="1404.0" cy="1121.8" r="10.45"/><circle cx="1396.1" cy="1127.6" r="10.45"/><circle cx="1450.9" cy="1122.6" r="10.45"/><circle cx="1305.8" cy="1129.7" r="10.45"/><circle cx="1315.8" cy="1131.8" r="10.45"/><circle cx="1310.5" cy="1137.1" r="10.45"/><circle cx="1333.6" cy="1140.8" r="10.45"/><circle cx="1359.9" cy="1144.4" r="10.45"/><circle cx="1418.7" cy="1148.6" r="10.45"/><circle cx="1483.3" cy="1150.7" r="10.45"/><circle cx="1493.3" cy="1147.1" r="10.45"/><circle cx="1498.0" cy="1141.3" r="10.45"/><circle cx="1365.1" cy="1155.5" r="10.45"/><circle cx="1369.3" cy="1154.4" r="10.45"/><circle cx="1373.5" cy="1152.3" r="10.45"/><circle cx="1376.7" cy="1151.3" r="10.45"/><circle cx="1379.8" cy="1150.7" r="10.45"/><circle cx="1363.0" cy="1159.7" r="10.45"/><circle cx="1354.6" cy="1163.9" r="10.45"/><circle cx="1307.4" cy="1158.6" r="10.45"/><circle cx="1314.2" cy="1172.3" r="10.45"/><circle cx="1412.2" cy="1172.8" r="10.45"/><circle cx="1447.1" cy="1171.2" r="10.45"/><circle cx="1450.7" cy="1179.6" r="10.45"/><circle cx="1329.4" cy="1187.5" r="10.45"/><circle cx="1343.6" cy="1189.6" r="10.45"/><circle cx="1362.5" cy="1183.3" r="10.45"/><circle cx="1383.5" cy="1183.8" r="10.45"/><circle cx="1393.0" cy="1182.8" r="10.45"/><circle cx="1387.2" cy="1190.1" r="10.45"/><circle cx="1448.1" cy="1194.3" r="10.45"/><circle cx="1452.3" cy="1198.5" r="10.45"/><circle cx="1482.2" cy="1192.8" r="10.45"/><circle cx="1206.6" cy="1214.9" r="10.45"/><circle cx="1239.0" cy="1214.7" r="10.45"/><circle cx="1251.5" cy="1214.9" r="10.45"/><circle cx="1234.8" cy="1230.8" r="10.45"/><circle cx="1277.5" cy="1217.3" r="10.45"/><circle cx="1278.6" cy="1213.7" r="10.45"/><circle cx="1290.7" cy="1210.0" r="10.45"/><circle cx="1145.7" cy="1235.9" r="10.45"/><circle cx="1202.7" cy="1257.2" r="10.45"/><circle cx="1200.3" cy="1264.9" r="10.45"/><circle cx="1201.1" cy="1273.5" r="10.45"/><circle cx="1235.0" cy="1275.3" r="10.45"/><circle cx="1282.5" cy="1258.3" r="10.45"/><circle cx="1282.5" cy="1259.3" r="10.45"/><circle cx="1278.9" cy="1272.5" r="10.45"/><circle cx="1294.3" cy="1284.9" r="10.45"/><circle cx="1125.7" cy="1276.2" r="10.45"/><circle cx="1124.7" cy="1284.0" r="10.45"/><circle cx="1124.2" cy="1285.6" r="10.45"/><circle cx="1137.3" cy="1303.5" r="10.45"/><circle cx="1137.3" cy="1307.7" r="10.45"/><circle cx="1130.5" cy="1314.0" r="10.45"/><circle cx="1160.7" cy="1303.5" r="10.45"/><circle cx="1174.1" cy="1311.1" r="10.45"/><circle cx="1194.9" cy="1309.8" r="10.45"/><circle cx="1294.3" cy="1306.8" r="10.45"/><circle cx="1213.1" cy="1321.3" r="10.45"/><circle cx="1239.2" cy="1323.9" r="10.45"/><circle cx="1109.5" cy="1320.8" r="10.45"/><circle cx="1160.9" cy="1328.7" r="10.45"/><circle cx="1176.4" cy="1328.2" r="10.45"/><circle cx="1146.5" cy="1335.7" r="10.45"/><circle cx="1105.3" cy="1332.9" r="10.45"/><circle cx="1225.8" cy="1340.8" r="10.45"/><circle cx="1119.4" cy="1345.5" r="10.45"/><circle cx="1108.4" cy="1358.1" r="10.45"/><circle cx="1256.5" cy="1368.3" r="10.45"/><circle cx="1128.9" cy="1383.3" r="10.45"/><circle cx="1131.5" cy="1385.9" r="10.45"/><circle cx="1153.9" cy="1391.7" r="10.45"/><circle cx="1198.7" cy="1395.4" r="10.45"/><circle cx="1210.0" cy="1393.8" r="10.45"/><circle cx="1278.6" cy="1395.2" r="10.45"/><circle cx="1329.9" cy="1200.0" r="10.45"/><circle cx="1304.7" cy="1215.2" r="10.45"/><circle cx="1313.7" cy="1218.9" r="10.45"/><circle cx="1331.5" cy="1213.4" r="10.45"/><circle cx="1356.4" cy="1211.0" r="10.45"/><circle cx="1364.1" cy="1231.5" r="10.45"/><circle cx="1359.9" cy="1236.8" r="10.45"/><circle cx="1417.9" cy="1222.8" r="10.45"/><circle cx="1440.8" cy="1232.0" r="10.45"/><circle cx="1457.6" cy="1218.1" r="10.45"/><circle cx="1479.4" cy="1223.6" r="10.45"/><circle cx="1473.8" cy="1234.7" r="10.45"/><circle cx="1474.4" cy="1235.7" r="10.45"/><circle cx="1393.2" cy="1240.8" r="10.45"/><circle cx="1329.4" cy="1247.8" r="10.45"/><circle cx="1382.5" cy="1254.1" r="10.45"/><circle cx="1383.0" cy="1258.3" r="10.45"/><circle cx="1315.8" cy="1260.6" r="10.45"/><circle cx="1318.9" cy="1273.0" r="10.45"/><circle cx="1392.4" cy="1269.9" r="10.45"/><circle cx="1403.3" cy="1297.9" r="10.45"/><circle cx="1470.9" cy="1300.0" r="10.45"/><circle cx="1318.9" cy="1315.5" r="10.45"/><circle cx="1337.3" cy="1322.9" r="10.45"/><circle cx="1332.4" cy="1329.0" r="10.45"/><circle cx="1366.9" cy="1341.8" r="10.45"/><circle cx="1307.9" cy="1347.9" r="10.45"/><circle cx="1329.9" cy="1357.0" r="10.45"/><circle cx="1441.8" cy="1385.7" r="10.45"/><circle cx="1307.9" cy="1391.2" r="10.45"/><circle cx="1468.1" cy="1395.9" r="10.45"/><circle cx="1474.4" cy="1396.4" r="10.45"/><circle cx="1303.7" cy="1399.5" r="10.45"/><circle cx="1111.6" cy="1406.7" r="10.45"/><circle cx="1208.2" cy="1407.4" r="10.45"/><circle cx="1205.7" cy="1415.8" r="10.45"/><circle cx="1373.3" cy="1422.1" r="10.45"/><circle cx="1429.8" cy="1412.0" r="10.45"/><circle cx="1120.8" cy="1433.8" r="10.45"/><circle cx="1142.6" cy="1440.1" r="10.45"/><circle cx="1161.8" cy="1429.2" r="10.45"/><circle cx="1229.0" cy="1445.2" r="10.45"/><circle cx="1233.8" cy="1464.1" r="10.45"/><circle cx="1270.6" cy="1479.6" r="10.45"/><circle cx="1212.8" cy="1490.1" r="10.45"/><circle cx="1116.4" cy="1496.0" r="10.45"/><circle cx="1249.2" cy="1509.7" r="10.45"/><circle cx="1379.6" cy="1518.1" r="10.45"/><circle cx="1318.9" cy="1529.4" r="10.45"/><circle cx="1262.2" cy="1557.6" r="10.45"/><circle cx="1227.7" cy="1569.3" r="10.45"/><circle cx="1187.8" cy="1576.1" r="10.45"/><circle cx="1169.5" cy="1586.8" r="10.45"/><circle cx="1197.7" cy="1607.4" r="10.45"/><circle cx="1187.8" cy="1614.1" r="10.45"/><circle cx="1313.0" cy="1606.3" r="10.45"/><circle cx="1216.0" cy="1655.3" r="10.45"/><circle cx="1227.5" cy="1680.5" r="10.45"/><circle cx="1190.4" cy="1982.4" r="10.45"/><circle cx="1626.4" cy="2131.3" r="10.45"/><circle cx="1641.8" cy="229.0" r="10.45"/><circle cx="1756.7" cy="233.6" r="10.45"/><circle cx="1789.5" cy="234.7" r="10.45"/><circle cx="1814.7" cy="224.8" r="10.45"/><circle cx="1812.2" cy="252.1" r="10.45"/><circle cx="1846.8" cy="262.6" r="10.45"/><circle cx="1859.9" cy="268.5" r="10.45"/><circle cx="1681.3" cy="285.3" r="10.45"/><circle cx="1711.1" cy="307.6" r="10.45"/><circle cx="1519.3" cy="321.0" r="10.45"/><circle cx="1776.5" cy="357.4" r="10.45"/><circle cx="1766.4" cy="369.1" r="10.45"/><circle cx="1826.3" cy="358.6" r="10.45"/><circle cx="1806.1" cy="381.1" r="10.45"/><circle cx="1822.3" cy="381.1" r="10.45"/><circle cx="1891.0" cy="379.8" r="10.45"/><circle cx="1867.2" cy="387.0" r="10.45"/><circle cx="1868.5" cy="395.8" r="10.45"/><circle cx="1590.5" cy="395.8" r="10.45"/><circle cx="1670.0" cy="392.2" r="10.45"/><circle cx="1763.9" cy="395.6" r="10.45"/><circle cx="1597.9" cy="405.8" r="10.45"/><circle cx="1623.4" cy="404.4" r="10.45"/><circle cx="1657.8" cy="400.8" r="10.45"/><circle cx="1626.4" cy="432.0" r="10.45"/><circle cx="1678.6" cy="435.2" r="10.45"/><circle cx="1678.6" cy="436.2" r="10.45"/><circle cx="1586.4" cy="443.6" r="10.45"/><circle cx="1627.1" cy="447.3" r="10.45"/><circle cx="1558.5" cy="455.4" r="10.45"/><circle cx="1592.1" cy="456.7" r="10.45"/><circle cx="1519.4" cy="479.6" r="10.45"/><circle cx="1580.7" cy="480.0" r="10.45"/><circle cx="1619.0" cy="484.8" r="10.45"/><circle cx="1626.6" cy="490.9" r="10.45"/><circle cx="1641.1" cy="490.5" r="10.45"/><circle cx="1695.4" cy="485.3" r="10.45"/><circle cx="1604.0" cy="502.6" r="10.45"/><circle cx="1530.5" cy="505.9" r="10.45"/><circle cx="1586.4" cy="515.5" r="10.45"/><circle cx="1626.1" cy="527.4" r="10.45"/><circle cx="1685.9" cy="528.9" r="10.45"/><circle cx="1615.5" cy="544.7" r="10.45"/><circle cx="1639.2" cy="544.4" r="10.45"/><circle cx="1645.0" cy="548.1" r="10.45"/><circle cx="1536.8" cy="549.5" r="10.45"/><circle cx="1565.9" cy="552.0" r="10.45"/><circle cx="1616.1" cy="562.8" r="10.45"/><circle cx="1627.6" cy="560.2" r="10.45"/><circle cx="1628.7" cy="561.8" r="10.45"/><circle cx="1688.9" cy="557.9" r="10.45"/><circle cx="1565.9" cy="576.5" r="10.45"/><circle cx="1615.9" cy="578.0" r="10.45"/><circle cx="1550.4" cy="583.8" r="10.45"/><circle cx="1574.6" cy="587.5" r="10.45"/><circle cx="1606.9" cy="589.9" r="10.45"/><circle cx="1639.2" cy="590.1" r="10.45"/><circle cx="1652.1" cy="588.6" r="10.45"/><circle cx="1843.4" cy="405.3" r="10.45"/><circle cx="1845.5" cy="411.6" r="10.45"/><circle cx="1810.3" cy="429.4" r="10.45"/><circle cx="1814.0" cy="428.9" r="10.45"/><circle cx="1733.6" cy="442.0" r="10.45"/><circle cx="1753.0" cy="446.7" r="10.45"/><circle cx="1758.8" cy="450.4" r="10.45"/><circle cx="1733.6" cy="457.8" r="10.45"/><circle cx="1753.6" cy="458.8" r="10.45"/><circle cx="1777.9" cy="459.7" r="10.45"/><circle cx="1824.5" cy="450.6" r="10.45"/><circle cx="1888.0" cy="447.3" r="10.45"/><circle cx="1742.8" cy="468.3" r="10.45"/><circle cx="1766.2" cy="470.4" r="10.45"/><circle cx="1766.7" cy="471.4" r="10.45"/><circle cx="1806.3" cy="470.4" r="10.45"/><circle cx="1723.6" cy="480.9" r="10.45"/><circle cx="1759.6" cy="489.8" r="10.45"/><circle cx="1895.4" cy="488.8" r="10.45"/><circle cx="1802.4" cy="502.1" r="10.45"/><circle cx="1829.0" cy="499.3" r="10.45"/><circle cx="1816.9" cy="509.8" r="10.45"/><circle cx="1753.9" cy="510.6" r="10.45"/><circle cx="1729.1" cy="518.7" r="10.45"/><circle cx="1780.7" cy="521.3" r="10.45"/><circle cx="1859.1" cy="519.7" r="10.45"/><circle cx="1799.3" cy="526.1" r="10.45"/><circle cx="1738.3" cy="531.1" r="10.45"/><circle cx="1746.2" cy="533.9" r="10.45"/><circle cx="1813.4" cy="531.3" r="10.45"/><circle cx="1825.5" cy="531.3" r="10.45"/><circle cx="1823.9" cy="536.0" r="10.45"/><circle cx="1887.0" cy="528.7" r="10.45"/><circle cx="1712.1" cy="541.3" r="10.45"/><circle cx="1747.3" cy="541.8" r="10.45"/><circle cx="1841.8" cy="538.7" r="10.45"/><circle cx="1870.2" cy="539.2" r="10.45"/><circle cx="1882.8" cy="540.8" r="10.45"/><circle cx="1808.5" cy="549.2" r="10.45"/><circle cx="1730.5" cy="555.5" r="10.45"/><circle cx="1762.8" cy="557.0" r="10.45"/><circle cx="1727.3" cy="564.4" r="10.45"/><circle cx="1733.6" cy="568.1" r="10.45"/><circle cx="1842.9" cy="562.8" r="10.45"/><circle cx="1803.5" cy="567.5" r="10.45"/><circle cx="1786.1" cy="571.7" r="10.45"/><circle cx="1730.5" cy="581.2" r="10.45"/><circle cx="1759.3" cy="581.7" r="10.45"/><circle cx="1868.6" cy="577.0" r="10.45"/><circle cx="1874.1" cy="590.7" r="10.45"/><circle cx="1749.4" cy="594.3" r="10.45"/><circle cx="1759.3" cy="599.5" r="10.45"/><circle cx="1503.2" cy="630.5" r="10.45"/><circle cx="1501.1" cy="659.9" r="10.45"/><circle cx="1501.9" cy="660.9" r="10.45"/><circle cx="1553.6" cy="622.3" r="10.45"/><circle cx="1617.1" cy="610.5" r="10.45"/><circle cx="1648.1" cy="605.8" r="10.45"/><circle cx="1629.2" cy="624.2" r="10.45"/><circle cx="1628.7" cy="627.8" r="10.45"/><circle cx="1656.0" cy="632.6" r="10.45"/><circle cx="1621.8" cy="638.3" r="10.45"/><circle cx="1611.9" cy="646.2" r="10.45"/><circle cx="1640.2" cy="642.0" r="10.45"/><circle cx="1672.8" cy="638.3" r="10.45"/><circle cx="1679.6" cy="622.1" r="10.45"/><circle cx="1685.4" cy="619.4" r="10.45"/><circle cx="1696.4" cy="616.8" r="10.45"/><circle cx="1565.7" cy="644.1" r="10.45"/><circle cx="1555.7" cy="651.5" r="10.45"/><circle cx="1531.0" cy="657.2" r="10.45"/><circle cx="1550.9" cy="658.3" r="10.45"/><circle cx="1556.7" cy="670.4" r="10.45"/><circle cx="1656.5" cy="649.4" r="10.45"/><circle cx="1635.5" cy="658.8" r="10.45"/><circle cx="1640.2" cy="665.7" r="10.45"/><circle cx="1617.1" cy="667.8" r="10.45"/><circle cx="1607.7" cy="671.4" r="10.45"/><circle cx="1660.7" cy="671.4" r="10.45"/><circle cx="1638.7" cy="680.9" r="10.45"/><circle cx="1543.6" cy="689.8" r="10.45"/><circle cx="1537.3" cy="696.6" r="10.45"/><circle cx="1593.8" cy="695.6" r="10.45"/><circle cx="1684.3" cy="684.6" r="10.45"/><circle cx="1694.3" cy="687.2" r="10.45"/><circle cx="1679.6" cy="703.5" r="10.45"/><circle cx="1689.6" cy="705.0" r="10.45"/><circle cx="1655.3" cy="705.0" r="10.45"/><circle cx="1543.4" cy="709.8" r="10.45"/><circle cx="1612.2" cy="708.7" r="10.45"/><circle cx="1602.4" cy="715.5" r="10.45"/><circle cx="1559.9" cy="722.4" r="10.45"/><circle cx="1552.2" cy="726.1" r="10.45"/><circle cx="1629.4" cy="727.6" r="10.45"/><circle cx="1698.5" cy="728.2" r="10.45"/><circle cx="1523.6" cy="733.9" r="10.45"/><circle cx="1624.3" cy="736.0" r="10.45"/><circle cx="1659.7" cy="738.7" r="10.45"/><circle cx="1536.8" cy="740.2" r="10.45"/><circle cx="1653.4" cy="743.4" r="10.45"/><circle cx="1551.2" cy="745.0" r="10.45"/><circle cx="1654.4" cy="748.1" r="10.45"/><circle cx="1657.6" cy="752.8" r="10.45"/><circle cx="1661.2" cy="753.9" r="10.45"/><circle cx="1570.9" cy="752.3" r="10.45"/><circle cx="1615.0" cy="754.4" r="10.45"/><circle cx="1548.3" cy="757.6" r="10.45"/><circle cx="1607.7" cy="760.2" r="10.45"/><circle cx="1534.7" cy="763.9" r="10.45"/><circle cx="1585.6" cy="765.4" r="10.45"/><circle cx="1550.4" cy="772.3" r="10.45"/><circle cx="1579.5" cy="772.8" r="10.45"/><circle cx="1691.2" cy="772.3" r="10.45"/><circle cx="1598.0" cy="778.6" r="10.45"/><circle cx="1521.7" cy="781.5" r="10.45"/><circle cx="1652.8" cy="778.6" r="10.45"/><circle cx="1688.0" cy="778.6" r="10.45"/><circle cx="1683.8" cy="782.8" r="10.45"/><circle cx="1632.6" cy="792.8" r="10.45"/><circle cx="1547.8" cy="795.4" r="10.45"/><circle cx="1554.6" cy="797.5" r="10.45"/><circle cx="1735.7" cy="601.6" r="10.45"/><circle cx="1843.4" cy="608.9" r="10.45"/><circle cx="1855.5" cy="609.5" r="10.45"/><circle cx="1742.5" cy="618.9" r="10.45"/><circle cx="1798.0" cy="621.5" r="10.45"/><circle cx="1781.7" cy="632.8" r="10.45"/><circle cx="1885.6" cy="627.5" r="10.45"/><circle cx="1885.6" cy="628.4" r="10.45"/><circle cx="1720.8" cy="644.3" r="10.45"/><circle cx="1773.5" cy="647.0" r="10.45"/><circle cx="1791.9" cy="646.2" r="10.45"/><circle cx="1816.9" cy="642.2" r="10.45"/><circle cx="1854.9" cy="641.7" r="10.45"/><circle cx="1863.3" cy="652.2" r="10.45"/><circle cx="1879.1" cy="648.8" r="10.45"/><circle cx="1752.2" cy="666.7" r="10.45"/><circle cx="1858.8" cy="689.8" r="10.45"/><circle cx="1889.6" cy="691.2" r="10.45"/><circle cx="1739.6" cy="694.7" r="10.45"/><circle cx="1754.3" cy="705.9" r="10.45"/><circle cx="1764.8" cy="715.0" r="10.45"/><circle cx="1881.5" cy="712.4" r="10.45"/><circle cx="1703.7" cy="716.1" r="10.45"/><circle cx="1709.5" cy="719.2" r="10.45"/><circle cx="1790.0" cy="726.4" r="10.45"/><circle cx="1780.9" cy="730.8" r="10.45"/><circle cx="1854.1" cy="728.7" r="10.45"/><circle cx="1736.2" cy="737.1" r="10.45"/><circle cx="1831.3" cy="736.0" r="10.45"/><circle cx="1751.8" cy="747.1" r="10.45"/><circle cx="1762.0" cy="747.6" r="10.45"/><circle cx="1769.3" cy="746.0" r="10.45"/><circle cx="1791.4" cy="743.9" r="10.45"/><circle cx="1795.6" cy="743.4" r="10.45"/><circle cx="1874.1" cy="747.9" r="10.45"/><circle cx="1831.6" cy="754.9" r="10.45"/><circle cx="1726.8" cy="754.9" r="10.45"/><circle cx="1728.4" cy="759.7" r="10.45"/><circle cx="1731.5" cy="762.3" r="10.45"/><circle cx="1733.1" cy="765.4" r="10.45"/><circle cx="1726.3" cy="768.1" r="10.45"/><circle cx="1706.3" cy="773.3" r="10.45"/><circle cx="1725.7" cy="777.5" r="10.45"/><circle cx="1739.4" cy="779.6" r="10.45"/><circle cx="1805.9" cy="769.6" r="10.45"/><circle cx="1832.4" cy="781.2" r="10.45"/><circle cx="1717.9" cy="787.0" r="10.45"/><circle cx="1759.0" cy="786.1" r="10.45"/><circle cx="1506.8" cy="808.9" r="10.45"/><circle cx="1507.9" cy="811.0" r="10.45"/><circle cx="1577.2" cy="812.1" r="10.45"/><circle cx="1584.0" cy="803.2" r="10.45"/><circle cx="1600.8" cy="812.1" r="10.45"/><circle cx="1612.9" cy="807.4" r="10.45"/><circle cx="1615.5" cy="821.0" r="10.45"/><circle cx="1604.0" cy="825.2" r="10.45"/><circle cx="1664.4" cy="814.2" r="10.45"/><circle cx="1527.8" cy="826.8" r="10.45"/><circle cx="1541.0" cy="824.7" r="10.45"/><circle cx="1514.7" cy="842.5" r="10.45"/><circle cx="1621.8" cy="838.3" r="10.45"/><circle cx="1654.4" cy="838.9" r="10.45"/><circle cx="1541.0" cy="849.4" r="10.45"/><circle cx="1540.4" cy="854.6" r="10.45"/><circle cx="1585.1" cy="848.3" r="10.45"/><circle cx="1584.0" cy="851.5" r="10.45"/><circle cx="1618.7" cy="855.7" r="10.45"/><circle cx="1534.7" cy="872.0" r="10.45"/><circle cx="1588.8" cy="874.8" r="10.45"/><circle cx="1501.1" cy="880.9" r="10.45"/><circle cx="1558.3" cy="887.7" r="10.45"/><circle cx="1573.0" cy="884.3" r="10.45"/><circle cx="1531.0" cy="891.4" r="10.45"/><circle cx="1502.1" cy="892.4" r="10.45"/><circle cx="1641.3" cy="897.9" r="10.45"/><circle cx="1651.8" cy="901.4" r="10.45"/><circle cx="1671.2" cy="893.5" r="10.45"/><circle cx="1696.4" cy="891.9" r="10.45"/><circle cx="1688.0" cy="902.9" r="10.45"/><circle cx="1549.4" cy="900.8" r="10.45"/><circle cx="1554.1" cy="900.8" r="10.45"/><circle cx="1558.8" cy="900.3" r="10.45"/><circle cx="1521.0" cy="905.0" r="10.45"/><circle cx="1517.9" cy="910.3" r="10.45"/><circle cx="1500.5" cy="910.3" r="10.45"/><circle cx="1507.9" cy="917.6" r="10.45"/><circle cx="1620.5" cy="914.5" r="10.45"/><circle cx="1556.7" cy="918.7" r="10.45"/><circle cx="1534.7" cy="922.4" r="10.45"/><circle cx="1652.3" cy="923.9" r="10.45"/><circle cx="1575.3" cy="926.1" r="10.45"/><circle cx="1634.1" cy="931.3" r="10.45"/><circle cx="1653.4" cy="931.8" r="10.45"/><circle cx="1542.5" cy="932.9" r="10.45"/><circle cx="1543.6" cy="933.9" r="10.45"/><circle cx="1572.0" cy="939.2" r="10.45"/><circle cx="1581.9" cy="941.8" r="10.45"/><circle cx="1507.4" cy="945.5" r="10.45"/><circle cx="1643.9" cy="945.0" r="10.45"/><circle cx="1687.0" cy="946.5" r="10.45"/><circle cx="1653.4" cy="955.5" r="10.45"/><circle cx="1696.4" cy="956.5" r="10.45"/><circle cx="1605.4" cy="959.7" r="10.45"/><circle cx="1653.4" cy="967.0" r="10.45"/><circle cx="1529.9" cy="967.5" r="10.45"/><circle cx="1568.8" cy="972.3" r="10.45"/><circle cx="1571.4" cy="972.8" r="10.45"/><circle cx="1676.5" cy="974.9" r="10.45"/><circle cx="1516.1" cy="981.7" r="10.45"/><circle cx="1660.7" cy="982.8" r="10.45"/><circle cx="1607.1" cy="985.9" r="10.45"/><circle cx="1597.2" cy="989.1" r="10.45"/><circle cx="1552.2" cy="990.1" r="10.45"/><circle cx="1662.8" cy="989.1" r="10.45"/><circle cx="1645.5" cy="993.3" r="10.45"/><circle cx="1618.7" cy="997.5" r="10.45"/><circle cx="1630.8" cy="997.5" r="10.45"/><circle cx="1547.8" cy="997.5" r="10.45"/><circle cx="1673.3" cy="998.5" r="10.45"/><circle cx="1858.8" cy="800.5" r="10.45"/><circle cx="1736.2" cy="820.0" r="10.45"/><circle cx="1760.9" cy="823.6" r="10.45"/><circle cx="1773.8" cy="817.9" r="10.45"/><circle cx="1841.8" cy="835.2" r="10.45"/><circle cx="1851.8" cy="832.8" r="10.45"/><circle cx="1894.9" cy="836.2" r="10.45"/><circle cx="1899.1" cy="836.2" r="10.45"/><circle cx="1757.8" cy="847.8" r="10.45"/><circle cx="1754.6" cy="859.3" r="10.45"/><circle cx="1841.8" cy="860.7" r="10.45"/><circle cx="1717.9" cy="867.8" r="10.45"/><circle cx="1870.7" cy="880.0" r="10.45"/><circle cx="1880.5" cy="876.4" r="10.45"/><circle cx="1720.7" cy="887.7" r="10.45"/><circle cx="1741.7" cy="890.1" r="10.45"/><circle cx="1788.2" cy="905.0" r="10.45"/><circle cx="1812.2" cy="897.2" r="10.45"/><circle cx="1757.6" cy="914.5" r="10.45"/><circle cx="1730.5" cy="920.8" r="10.45"/><circle cx="1729.2" cy="926.1" r="10.45"/><circle cx="1704.2" cy="941.8" r="10.45"/><circle cx="1866.3" cy="979.4" r="10.45"/><circle cx="1699.6" cy="1005.3" r="10.45"/><circle cx="1714.3" cy="1005.3" r="10.45"/><circle cx="1751.5" cy="1008.4" r="10.45"/><circle cx="1547.3" cy="1014.7" r="10.45"/><circle cx="1548.3" cy="1020.0" r="10.45"/><circle cx="1622.9" cy="1013.0" r="10.45"/><circle cx="1590.8" cy="1023.1" r="10.45"/><circle cx="1606.1" cy="1022.7" r="10.45"/><circle cx="1699.2" cy="1025.2" r="10.45"/><circle cx="1713.7" cy="1024.2" r="10.45"/><circle cx="1731.1" cy="1016.8" r="10.45"/><circle cx="1888.7" cy="1020.6" r="10.45"/><circle cx="1652.3" cy="1030.5" r="10.45"/><circle cx="1763.0" cy="1032.6" r="10.45"/><circle cx="1531.1" cy="1039.5" r="10.45"/><circle cx="1541.0" cy="1040.3" r="10.45"/><circle cx="1544.5" cy="1038.2" r="10.45"/><circle cx="1731.7" cy="1045.8" r="10.45"/><circle cx="1602.1" cy="1050.4" r="10.45"/><circle cx="1589.9" cy="1062.0" r="10.45"/><circle cx="1647.1" cy="1056.7" r="10.45"/><circle cx="1662.8" cy="1055.0" r="10.45"/><circle cx="1672.7" cy="1060.9" r="10.45"/><circle cx="1632.4" cy="1065.5" r="10.45"/><circle cx="1581.9" cy="1073.5" r="10.45"/><circle cx="1728.8" cy="1071.8" r="10.45"/><circle cx="1795.8" cy="1070.4" r="10.45"/><circle cx="1597.9" cy="1084.5" r="10.45"/><circle cx="1717.0" cy="1088.7" r="10.45"/><circle cx="1534.7" cy="1091.8" r="10.45"/><circle cx="1642.2" cy="1093.1" r="10.45"/><circle cx="1701.3" cy="1099.8" r="10.45"/><circle cx="1511.3" cy="1103.4" r="10.45"/><circle cx="1643.5" cy="1107.8" r="10.45"/><circle cx="1599.2" cy="1113.4" r="10.45"/><circle cx="1592.4" cy="1117.6" r="10.45"/><circle cx="1566.8" cy="1115.5" r="10.45"/><circle cx="1676.1" cy="1113.4" r="10.45"/><circle cx="1540.5" cy="1120.8" r="10.45"/><circle cx="1699.2" cy="1122.1" r="10.45"/><circle cx="1631.1" cy="1122.9" r="10.45"/><circle cx="1787.0" cy="1119.7" r="10.45"/><circle cx="1587.6" cy="1139.3" r="10.45"/><circle cx="1739.1" cy="1142.9" r="10.45"/><circle cx="1535.3" cy="1144.3" r="10.45"/><circle cx="1575.2" cy="1148.1" r="10.45"/><circle cx="1593.9" cy="1148.5" r="10.45"/><circle cx="1640.3" cy="1146.0" r="10.45"/><circle cx="1597.1" cy="1155.9" r="10.45"/><circle cx="1507.4" cy="1159.0" r="10.45"/><circle cx="1538.9" cy="1160.7" r="10.45"/><circle cx="1543.1" cy="1162.8" r="10.45"/><circle cx="1549.4" cy="1161.8" r="10.45"/><circle cx="1534.7" cy="1167.0" r="10.45"/><circle cx="1531.5" cy="1172.3" r="10.45"/><circle cx="1555.7" cy="1168.1" r="10.45"/><circle cx="1575.2" cy="1167.6" r="10.45"/><circle cx="1535.7" cy="1188.0" r="10.45"/><circle cx="1606.7" cy="1192.6" r="10.45"/><circle cx="1504.2" cy="1192.9" r="10.45"/><circle cx="1720.0" cy="1194.7" r="10.45"/><circle cx="1546.6" cy="1202.1" r="10.45"/><circle cx="1566.8" cy="1227.9" r="10.45"/><circle cx="1592.9" cy="1227.9" r="10.45"/><circle cx="1672.7" cy="1227.9" r="10.45"/><circle cx="1739.3" cy="1229.8" r="10.45"/><circle cx="1730.5" cy="1257.1" r="10.45"/><circle cx="1582.8" cy="1271.6" r="10.45"/><circle cx="1608.2" cy="1270.0" r="10.45"/><circle cx="1750.0" cy="1277.3" r="10.45"/><circle cx="1891.2" cy="1281.9" r="10.45"/><circle cx="1518.7" cy="1286.1" r="10.45"/><circle cx="1658.0" cy="1286.1" r="10.45"/><circle cx="1556.7" cy="1301.5" r="10.45"/><circle cx="1517.0" cy="1324.8" r="10.45"/><circle cx="1570.2" cy="1323.5" r="10.45"/><circle cx="1649.8" cy="1354.6" r="10.45"/><circle cx="1746.2" cy="1351.5" r="10.45"/><circle cx="1555.5" cy="1366.8" r="10.45"/><circle cx="1673.3" cy="1375.0" r="10.45"/><circle cx="1548.3" cy="1413.0" r="10.45"/><circle cx="1763.7" cy="1422.9" r="10.45"/><circle cx="1589.9" cy="1458.2" r="10.45"/><circle cx="1624.4" cy="1462.8" r="10.45"/><circle cx="1645.8" cy="1524.2" r="10.45"/><circle cx="1650.4" cy="1620.2" r="10.45"/><circle cx="2059.3" cy="241.2" r="10.45"/><circle cx="1952.8" cy="258.1" r="10.45"/><circle cx="2053.9" cy="261.1" r="10.45"/><circle cx="2029.4" cy="281.9" r="10.45"/><circle cx="2081.7" cy="277.7" r="10.45"/><circle cx="1925.9" cy="286.4" r="10.45"/><circle cx="1932.9" cy="302.4" r="10.45"/><circle cx="2082.2" cy="297.5" r="10.45"/><circle cx="2014.0" cy="311.9" r="10.45"/><circle cx="2024.5" cy="310.8" r="10.45"/><circle cx="1950.9" cy="318.7" r="10.45"/><circle cx="2078.6" cy="323.9" r="10.45"/><circle cx="2067.8" cy="328.7" r="10.45"/><circle cx="2059.3" cy="331.1" r="10.45"/><circle cx="2029.2" cy="344.4" r="10.45"/><circle cx="1927.6" cy="353.9" r="10.45"/><circle cx="2059.7" cy="354.9" r="10.45"/><circle cx="1938.6" cy="365.4" r="10.45"/><circle cx="2017.6" cy="364.7" r="10.45"/><circle cx="2035.0" cy="366.5" r="10.45"/><circle cx="2048.1" cy="366.8" r="10.45"/><circle cx="1976.7" cy="368.1" r="10.45"/><circle cx="2093.8" cy="366.0" r="10.45"/><circle cx="2095.4" cy="379.6" r="10.45"/><circle cx="2056.7" cy="388.0" r="10.45"/><circle cx="1926.1" cy="394.3" r="10.45"/><circle cx="1927.8" cy="397.5" r="10.45"/><circle cx="1979.5" cy="392.8" r="10.45"/><circle cx="2092.2" cy="398.5" r="10.45"/><circle cx="2130.3" cy="219.4" r="10.45"/><circle cx="2204.8" cy="226.8" r="10.45"/><circle cx="2115.2" cy="271.1" r="10.45"/><circle cx="2106.8" cy="291.2" r="10.45"/><circle cx="2105.3" cy="299.3" r="10.45"/><circle cx="2241.0" cy="289.1" r="10.45"/><circle cx="2114.0" cy="313.2" r="10.45"/><circle cx="2155.7" cy="309.6" r="10.45"/><circle cx="2104.2" cy="330.8" r="10.45"/><circle cx="2183.0" cy="330.6" r="10.45"/><circle cx="2221.6" cy="338.1" r="10.45"/><circle cx="2146.2" cy="342.1" r="10.45"/><circle cx="2146.2" cy="350.4" r="10.45"/><circle cx="2125.5" cy="361.2" r="10.45"/><circle cx="2103.7" cy="367.0" r="10.45"/><circle cx="2132.8" cy="375.6" r="10.45"/><circle cx="1984.6" cy="405.3" r="10.45"/><circle cx="1959.9" cy="411.8" r="10.45"/><circle cx="1905.3" cy="423.1" r="10.45"/><circle cx="1901.1" cy="428.4" r="10.45"/><circle cx="2013.1" cy="419.4" r="10.45"/><circle cx="2038.7" cy="424.4" r="10.45"/><circle cx="1929.7" cy="436.6" r="10.45"/><circle cx="1925.7" cy="440.4" r="10.45"/><circle cx="1949.9" cy="443.6" r="10.45"/><circle cx="1983.0" cy="435.7" r="10.45"/><circle cx="1982.5" cy="438.9" r="10.45"/><circle cx="1995.3" cy="431.0" r="10.45"/><circle cx="2005.9" cy="432.8" r="10.45"/><circle cx="1993.0" cy="450.4" r="10.45"/><circle cx="2078.9" cy="447.0" r="10.45"/><circle cx="1909.2" cy="458.8" r="10.45"/><circle cx="1944.4" cy="455.5" r="10.45"/><circle cx="1956.0" cy="456.2" r="10.45"/><circle cx="1925.5" cy="462.8" r="10.45"/><circle cx="2028.7" cy="456.7" r="10.45"/><circle cx="2056.7" cy="458.3" r="10.45"/><circle cx="1903.2" cy="469.9" r="10.45"/><circle cx="1901.1" cy="476.2" r="10.45"/><circle cx="1944.4" cy="472.0" r="10.45"/><circle cx="2061.2" cy="472.0" r="10.45"/><circle cx="2062.3" cy="473.5" r="10.45"/><circle cx="2067.5" cy="476.2" r="10.45"/><circle cx="2079.1" cy="477.2" r="10.45"/><circle cx="2051.8" cy="486.1" r="10.45"/><circle cx="2069.1" cy="489.3" r="10.45"/><circle cx="2069.6" cy="493.5" r="10.45"/><circle cx="2069.1" cy="499.3" r="10.45"/><circle cx="2094.9" cy="490.3" r="10.45"/><circle cx="1927.6" cy="509.0" r="10.45"/><circle cx="2014.5" cy="506.1" r="10.45"/><circle cx="2018.0" cy="515.2" r="10.45"/><circle cx="1978.3" cy="516.6" r="10.45"/><circle cx="1978.8" cy="518.2" r="10.45"/><circle cx="1995.1" cy="527.6" r="10.45"/><circle cx="1991.4" cy="532.4" r="10.45"/><circle cx="2008.2" cy="528.7" r="10.45"/><circle cx="1989.3" cy="536.6" r="10.45"/><circle cx="2024.5" cy="534.2" r="10.45"/><circle cx="1979.3" cy="539.2" r="10.45"/><circle cx="1934.1" cy="536.6" r="10.45"/><circle cx="1903.2" cy="537.6" r="10.45"/><circle cx="1942.5" cy="547.1" r="10.45"/><circle cx="1963.0" cy="546.3" r="10.45"/><circle cx="2000.1" cy="549.2" r="10.45"/><circle cx="1949.9" cy="552.3" r="10.45"/><circle cx="2011.9" cy="560.2" r="10.45"/><circle cx="1943.1" cy="577.5" r="10.45"/><circle cx="2045.5" cy="574.9" r="10.45"/><circle cx="1908.9" cy="582.2" r="10.45"/><circle cx="2047.6" cy="583.8" r="10.45"/><circle cx="1943.1" cy="589.3" r="10.45"/><circle cx="1909.5" cy="593.3" r="10.45"/><circle cx="2162.5" cy="412.8" r="10.45"/><circle cx="2104.7" cy="430.5" r="10.45"/><circle cx="2146.2" cy="441.3" r="10.45"/><circle cx="2233.4" cy="432.8" r="10.45"/><circle cx="2239.2" cy="433.4" r="10.45"/><circle cx="2105.8" cy="476.7" r="10.45"/><circle cx="2188.0" cy="494.5" r="10.45"/><circle cx="2198.7" cy="493.5" r="10.45"/><circle cx="2233.4" cy="488.2" r="10.45"/><circle cx="2223.1" cy="502.1" r="10.45"/><circle cx="2223.1" cy="523.7" r="10.45"/><circle cx="2232.0" cy="536.8" r="10.45"/><circle cx="2159.6" cy="531.1" r="10.45"/><circle cx="2162.7" cy="533.6" r="10.45"/><circle cx="2171.4" cy="553.9" r="10.45"/><circle cx="2171.2" cy="559.1" r="10.45"/><circle cx="2127.6" cy="556.5" r="10.45"/><circle cx="2105.8" cy="577.0" r="10.45"/><circle cx="2164.1" cy="599.5" r="10.45"/><circle cx="1909.5" cy="612.6" r="10.45"/><circle cx="1902.1" cy="621.0" r="10.45"/><circle cx="1909.5" cy="625.2" r="10.45"/><circle cx="1930.5" cy="618.9" r="10.45"/><circle cx="2011.8" cy="619.3" r="10.45"/><circle cx="2017.6" cy="624.8" r="10.45"/><circle cx="2032.8" cy="630.5" r="10.45"/><circle cx="2070.2" cy="611.1" r="10.45"/><circle cx="2119.5" cy="624.6" r="10.45"/><circle cx="2204.6" cy="609.9" r="10.45"/><circle cx="2215.8" cy="624.2" r="10.45"/><circle cx="1950.0" cy="636.8" r="10.45"/><circle cx="1981.3" cy="638.4" r="10.45"/><circle cx="2000.0" cy="639.9" r="10.45"/><circle cx="1946.2" cy="646.6" r="10.45"/><circle cx="1920.0" cy="648.9" r="10.45"/><circle cx="1908.8" cy="657.1" r="10.45"/><circle cx="2175.0" cy="650.6" r="10.45"/><circle cx="2057.1" cy="654.4" r="10.45"/><circle cx="2078.2" cy="667.6" r="10.45"/><circle cx="1981.9" cy="677.1" r="10.45"/><circle cx="1960.3" cy="682.8" r="10.45"/><circle cx="2060.1" cy="681.3" r="10.45"/><circle cx="2077.9" cy="683.0" r="10.45"/><circle cx="2010.7" cy="686.1" r="10.45"/><circle cx="1940.3" cy="689.9" r="10.45"/><circle cx="2112.8" cy="690.5" r="10.45"/><circle cx="1951.5" cy="699.4" r="10.45"/><circle cx="1946.6" cy="702.9" r="10.45"/><circle cx="1904.6" cy="702.9" r="10.45"/><circle cx="2020.8" cy="725.6" r="10.45"/><circle cx="2090.1" cy="723.3" r="10.45"/><circle cx="1970.4" cy="746.0" r="10.45"/><circle cx="1940.5" cy="752.3" r="10.45"/><circle cx="2109.5" cy="752.7" r="10.45"/><circle cx="1908.4" cy="758.0" r="10.45"/><circle cx="2230.5" cy="765.8" r="10.45"/><circle cx="2104.8" cy="799.6" r="10.45"/><circle cx="2112.2" cy="809.7" r="10.45"/><circle cx="1937.2" cy="812.6" r="10.45"/><circle cx="1952.3" cy="811.8" r="10.45"/><circle cx="2171.2" cy="815.3" r="10.45"/><circle cx="1952.7" cy="836.6" r="10.45"/><circle cx="2155.3" cy="851.3" r="10.45"/><circle cx="2111.8" cy="854.2" r="10.45"/><circle cx="2109.7" cy="859.5" r="10.45"/><circle cx="1966.6" cy="859.0" r="10.45"/><circle cx="1979.6" cy="873.9" r="10.45"/><circle cx="1908.8" cy="874.4" r="10.45"/><circle cx="2075.6" cy="896.2" r="10.45"/><circle cx="1950.2" cy="903.2" r="10.45"/><circle cx="1934.0" cy="986.6" r="10.45"/><circle cx="1933.6" cy="995.0" r="10.45"/><circle cx="1968.3" cy="988.2" r="10.45"/><circle cx="1996.4" cy="1012.4" r="10.45"/></g>
<rect x="315.0" y="41.0" width="2126.0" height="2126.0" fill="none" stroke="#161616" stroke-width="1.6"/>
<rect x="343.4" y="69.8" width="534.6" height="284.4" fill="#fff" stroke="#161616" stroke-width="1.6"/>
<line x1="354" y1="170" x2="458.5" y2="170" stroke="#000" stroke-width="1.65"/>
<circle cx="406.3" cy="307.7" r="10.45" fill="none" stroke="#000" stroke-width="1.7"/>
<text class="lg" x="466.5" y="143">slope=5.94</text>
<text class="lg" x="466.5" y="246">R<tspan dy="-35" font-size="56">2</tspan><tspan dy="35">=0.45</tspan></text>
<text class="lg" x="466.5" y="332">N=1332</text>
<text class="tl" x="169.5" y="76">10<tspan dy="-35" dx="0.3" font-size="55">1</tspan></text>
<text class="tl" x="169.5" y="1069">10<tspan dy="-35" dx="0.3" font-size="55">0</tspan></text>
<text class="tl" x="148.5" y="2062">10<tspan dy="-35" dx="0.3" font-size="55">-1</tspan></text>
<text class="tl" x="491" y="2275">10<tspan dy="-35" dx="0.3" font-size="55">-1</tspan></text>
<text class="tl" x="2378" y="2275">10<tspan dy="-35" dx="0.3" font-size="55">0</tspan></text>
<text class="al" x="966.5" y="2391">[Chla<tspan dy="-37.5" font-size="62">Sat</tspan><tspan dy="37.5">]</tspan><tspan dy="36" font-size="62">surf</tspan><tspan dy="-36"> (mg.m</tspan><tspan dy="-37.5" font-size="62">-3</tspan><tspan dy="37.5">)</tspan></text>
<text class="al" transform="translate(84.5,1400.5) rotate(-90)" x="0" y="0">[F]<tspan dy="36" font-size="62">surf</tspan><tspan dy="-36"> (mg.m</tspan><tspan dy="-37.5" font-size="62">-3</tspan><tspan dy="37.5">)</tspan></text>
</svg>
</body></html>
